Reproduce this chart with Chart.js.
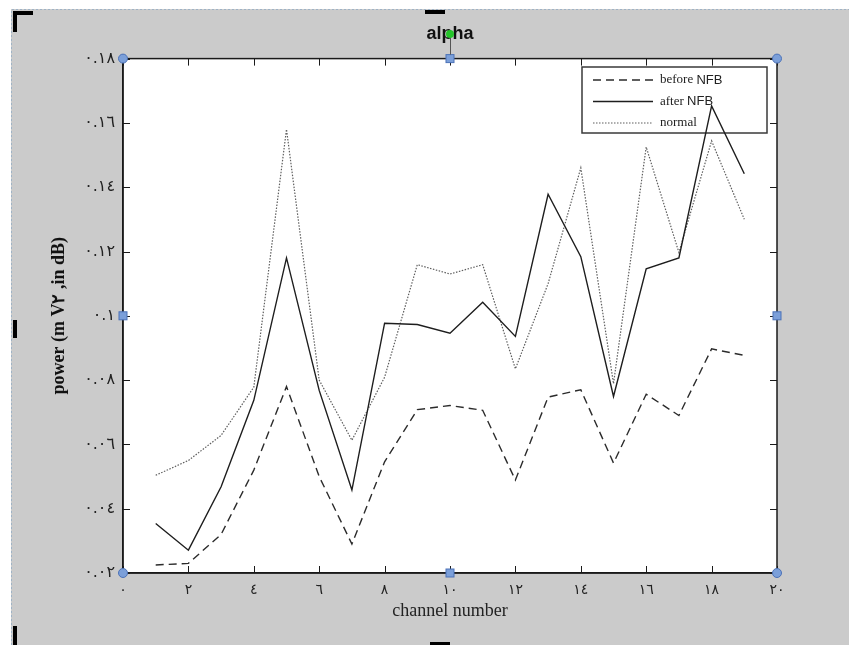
<!DOCTYPE html>
<html>
<head>
<meta charset="utf-8">
<script src="https://cdn.jsdelivr.net/npm/chart.js@4.4.1/dist/chart.umd.min.js"></script>
<style>
  body { margin: 0; background: #fff; }
  canvas { display: block; }
</style>
</head>
<body>
<canvas id="myChart" width="849" height="645"></canvas>
<script>
// channel numbers and the three measured series
var channels = [1, 2, 3, 4, 5, 6, 7, 8, 9, 10, 11, 12, 13, 14, 15, 16, 17, 18, 19]
var beforeNFB = [0.0225, 0.023, 0.032, 0.052, 0.078, 0.050, 0.029, 0.0546, 0.0708, 0.0721,
                 0.0706, 0.0489, 0.0747, 0.077, 0.0542, 0.0756, 0.069, 0.0897, 0.0877]
var afterNFB = [0.0354, 0.0271, 0.0468, 0.0737, 0.118, 0.0768, 0.0458, 0.0977, 0.0973, 0.0946,
                0.1042, 0.0936, 0.1378, 0.1184, 0.0749, 0.1146, 0.118, 0.1653, 0.1442]
var normal = [0.0504, 0.055, 0.0628, 0.0778, 0.158, 0.080, 0.0613, 0.0809, 0.1159, 0.113,
              0.1159, 0.0835, 0.110, 0.146, 0.0789, 0.1525, 0.1197, 0.1544, 0.130]

var xTickLabels = ['٠', '٢', '٤', '٦', '٨', '١٠', '١٢', '١٤', '١٦', '١٨', '٢٠']
var yTickLabels = ['٠.٠٢', '٠.٠٤', '٠.٠٦', '٠.٠٨', '٠.١', '٠.١٢', '٠.١٤', '٠.١٦', '٠.١٨']
var legendLabels = [['before', 'NFB'], ['after', 'NFB'], ['normal', '']]

function toPoints(values) {
  return values.map((v, i) => ({ x: channels[i], y: v }))
}

var dataBefore = {
  label: 'before NFB',
  data: toPoints(beforeNFB),
  borderColor: '#2b2b2b',
  borderWidth: 1.4,
  borderDash: [8, 5],
  pointRadius: 0,
  lineTension: 0
}
var dataAfter = {
  label: 'after NFB',
  data: toPoints(afterNFB),
  borderColor: '#1e1e1e',
  borderWidth: 1.4,
  pointRadius: 0,
  lineTension: 0
}
var dataNormal = {
  label: 'normal',
  data: toPoints(normal),
  borderColor: '#5e5e5e',
  borderWidth: 1.2,
  borderDash: [1.5, 1.5],
  pointRadius: 0,
  lineTension: 0
}

// gray page, white plot box
var backdrop = {
  id: 'backdrop',
  beforeDraw(chart) {
    var ctx = chart.ctx, a = chart.chartArea
    ctx.save()
    ctx.fillStyle = '#fff'
    ctx.fillRect(0, 0, chart.width, chart.height)
    ctx.fillStyle = '#cbcbcb'
    ctx.fillRect(11, 9, chart.width - 11, chart.height - 9)
    ctx.strokeStyle = '#9fb3c6'
    ctx.setLineDash([2, 2])
    ctx.lineWidth = 1
    ctx.beginPath()
    ctx.moveTo(11.5, chart.height)
    ctx.lineTo(11.5, 9.5)
    ctx.lineTo(chart.width, 9.5)
    ctx.stroke()
    ctx.setLineDash([])
    ctx.fillStyle = '#fff'
    ctx.fillRect(a.left, a.top, a.right - a.left, a.bottom - a.top)
    ctx.restore()
  },
  beforeDatasetsDraw(chart) {
    // legend box, drawn under the lines
    var ctx = chart.ctx
    var box = { x: 582, y: 67, w: 185, h: 66 }
    ctx.save()
    ctx.fillStyle = '#fff'
    ctx.fillRect(box.x, box.y, box.w, box.h)
    ctx.strokeStyle = '#3a3a3a'
    ctx.lineWidth = 1.5
    ctx.strokeRect(box.x, box.y, box.w, box.h)
    chart.data.datasets.forEach((ds, i) => {
      var y = 80 + i * 21.5
      ctx.strokeStyle = ds.borderColor
      ctx.lineWidth = ds.borderWidth
      ctx.setLineDash(ds.borderDash || [])
      ctx.beginPath()
      ctx.moveTo(593, y)
      ctx.lineTo(653, y)
      ctx.stroke()
      ctx.setLineDash([])
      ctx.fillStyle = '#222'
      ctx.textBaseline = 'middle'
      ctx.font = '13px "Liberation Serif"'
      ctx.fillText(legendLabels[i][0], 660, y)
      var w = ctx.measureText(legendLabels[i][0] + ' ').width
      ctx.font = '13px "Liberation Sans"'
      ctx.fillText(legendLabels[i][1], 660 + w, y)
    })
    ctx.restore()
  },
  afterDraw(chart) {
    var ctx = chart.ctx, a = chart.chartArea
    var xs = chart.scales.x, ys = chart.scales.y
    ctx.save()
    // frame
    ctx.strokeStyle = '#1a1a1a'
    ctx.lineWidth = 1.5
    ctx.strokeRect(a.left, a.top, a.right - a.left, a.bottom - a.top)
    // inward ticks on all four sides
    ctx.lineWidth = 1
    ctx.beginPath()
    xs.ticks.forEach(t => {
      var px = Math.round(xs.getPixelForValue(t.value)) + 0.5
      ctx.moveTo(px, a.bottom); ctx.lineTo(px, a.bottom - 7)
      ctx.moveTo(px, a.top); ctx.lineTo(px, a.top + 7)
    })
    ys.ticks.forEach(t => {
      var py = Math.round(ys.getPixelForValue(t.value)) + 0.5
      ctx.moveTo(a.left, py); ctx.lineTo(a.left + 7, py)
      ctx.moveTo(a.right, py); ctx.lineTo(a.right - 7, py)
    })
    ctx.stroke()
    // selection handles
    var midX = (a.left + a.right) / 2, midY = (a.top + a.bottom) / 2
    ctx.fillStyle = '#7b9fd9'
    ctx.strokeStyle = '#4c72b8'
    ctx.lineWidth = 1
    ;[[a.left, a.top], [a.right, a.top], [a.left, a.bottom], [a.right, a.bottom]].forEach(p => {
      ctx.beginPath()
      ctx.arc(p[0], p[1], 4.5, 0, Math.PI * 2)
      ctx.fill(); ctx.stroke()
    })
    ;[[midX, a.top], [midX, a.bottom], [a.left, midY], [a.right, midY]].forEach(p => {
      ctx.fillRect(p[0] - 4, p[1] - 4, 8, 8)
      ctx.strokeRect(p[0] - 4, p[1] - 4, 8, 8)
    })
    ctx.strokeStyle = '#555'
    ctx.beginPath()
    ctx.moveTo(midX + 0.5, 36); ctx.lineTo(midX + 0.5, a.top - 4)
    ctx.stroke()
    ctx.fillStyle = '#25c42a'
    ctx.beginPath()
    ctx.arc(midX, 34, 4, 0, Math.PI * 2)
    ctx.fill()
    // black crop marks
    ctx.fillStyle = '#000'
    ctx.fillRect(13, 11, 20, 4)
    ctx.fillRect(13, 11, 4, 21)
    ctx.fillRect(13, 626, 4, 19)
    ctx.fillRect(13, 320, 4, 18)
    ctx.fillRect(425, 10, 20, 4)
    ctx.fillRect(430, 642, 20, 3)
    ctx.restore()
  }
}

var ctx = document.getElementById('myChart').getContext('2d')
var lineChart = new Chart(ctx, {
  type: 'line',
  data: { datasets: [dataBefore, dataAfter, dataNormal] },
  options: {
    responsive: false,
    animation: false,
    layout: { padding: { left: 12, top: 10, right: 72, bottom: 10 } },
    plugins: {
      legend: { display: false },
      tooltip: { enabled: false },
      title: {
        display: true,
        fullSize: false,
        text: 'alpha',
        color: '#111',
        font: { family: '"Liberation Sans"', size: 18, weight: 'bold' },
        padding: { top: 13, bottom: 14 }
      }
    },
    scales: {
      x: {
        type: 'linear',
        min: 0,
        max: 20,
        ticks: {
          stepSize: 2,
          padding: 9,
          color: '#222',
          font: { family: '"DejaVu Sans"', size: 14 },
          callback: (v, i) => xTickLabels[i]
        },
        grid: { display: false, drawTicks: false },
        border: { display: true, color: '#1a1a1a', width: 1.5 },
        title: {
          display: true,
          text: 'channel number',
          color: '#222',
          font: { family: '"Liberation Serif"', size: 18 },
          padding: { top: 0, bottom: 13 }
        },
        afterFit(scale) { scale.height = 62 }
      },
      y: {
        min: 0.02,
        max: 0.18,
        ticks: {
          stepSize: 0.02,
          padding: 8,
          color: '#222',
          font: { family: '"DejaVu Sans"', size: 16 },
          callback: (v, i) => yTickLabels[i]
        },
        grid: { display: false, drawTicks: false },
        border: { display: true, color: '#1a1a1a', width: 1.5 },
        title: {
          display: true,
          text: 'power (m V٢ ,in dB)',
          color: '#111',
          font: { family: '"Liberation Serif"', size: 18, weight: 'bold' },
          padding: { top: 37, bottom: 0 }
        },
        afterFit(scale) { scale.width = 111 }
      }
    }
  },
  plugins: [backdrop]
})
</script>
</body>
</html>
